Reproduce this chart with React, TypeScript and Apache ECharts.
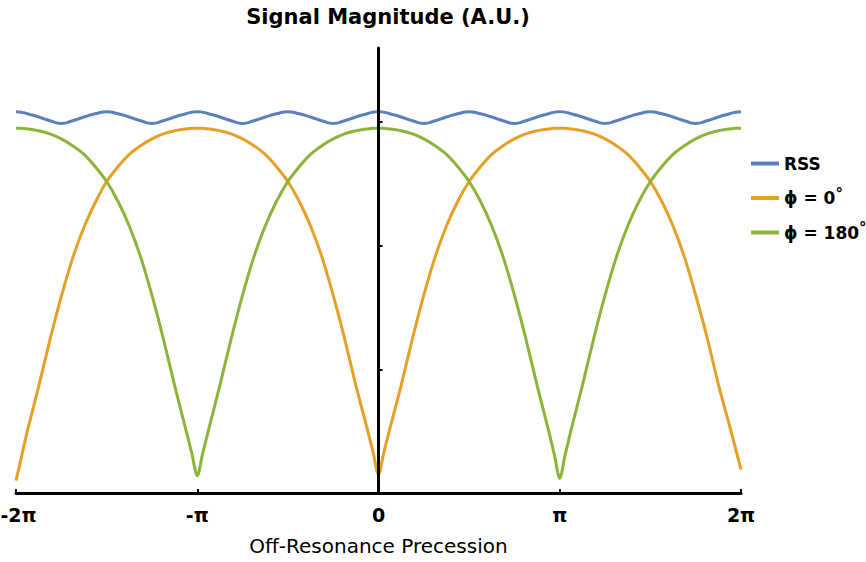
import React, { useEffect, useRef } from 'react';
import * as echarts from 'echarts';

// x positions in units of π
const X_PI = [
  -2, -1.97, -1.9375, -1.875, -1.8125, -1.75, -1.6875, -1.625, -1.5625, -1.5, -1.4375, -1.375, -1.3125, -1.25, -1.1875, -1.125, -1.0625, -1.03,
  -1, -0.97, -0.9375, -0.875, -0.8125, -0.75, -0.6875, -0.625, -0.5625, -0.5, -0.4375, -0.375, -0.3125, -0.25, -0.1875, -0.125, -0.0625, -0.03,
  0, 0.03, 0.0625, 0.125, 0.1875, 0.25, 0.3125, 0.375, 0.4375, 0.5, 0.5625, 0.625, 0.6875, 0.75, 0.8125, 0.875, 0.9375, 0.97,
  1, 1.03, 1.0625, 1.125, 1.1875, 1.25, 1.3125, 1.375, 1.4375, 1.5, 1.5625, 1.625, 1.6875, 1.75, 1.8125, 1.875, 1.9375, 1.97,
  2,
];

const RSS = [
  3.085, 3.081, 3.068, 3.042, 3.012, 2.99, 3.012, 3.042, 3.068, 3.085, 3.068, 3.042, 3.012, 2.99, 3.012, 3.042, 3.068, 3.081,
  3.085, 3.081, 3.068, 3.042, 3.012, 2.99, 3.012, 3.042, 3.068, 3.085, 3.068, 3.042, 3.012, 2.99, 3.012, 3.042, 3.068, 3.081,
  3.085, 3.081, 3.068, 3.042, 3.012, 2.99, 3.012, 3.042, 3.068, 3.085, 3.068, 3.042, 3.012, 2.99, 3.012, 3.042, 3.068, 3.081,
  3.085, 3.081, 3.068, 3.042, 3.012, 2.99, 3.012, 3.042, 3.068, 3.085, 3.068, 3.042, 3.012, 2.99, 3.012, 3.042, 3.068, 3.081,
  3.085,
];

const PHI0 = [
  0.10, 0.29, 0.50, 0.86, 1.24, 1.59, 1.90, 2.15, 2.35, 2.52, 2.64, 2.74, 2.81, 2.865, 2.905, 2.93, 2.945, 2.95,
  2.95, 2.95, 2.945, 2.93, 2.905, 2.865, 2.81, 2.74, 2.64, 2.52, 2.36, 2.16, 1.91, 1.60, 1.25, 0.87, 0.52, 0.33,
  0.15, 0.33, 0.52, 0.87, 1.25, 1.60, 1.91, 2.16, 2.36, 2.52, 2.64, 2.74, 2.81, 2.865, 2.905, 2.93, 2.945, 2.95,
  2.95, 2.95, 2.945, 2.93, 2.905, 2.865, 2.81, 2.74, 2.64, 2.52, 2.36, 2.16, 1.91, 1.60, 1.26, 0.88, 0.54, 0.36,
  0.19,
];

const PHI180 = [
  2.95, 2.95, 2.945, 2.93, 2.905, 2.865, 2.81, 2.74, 2.64, 2.52, 2.36, 2.16, 1.91, 1.60, 1.25, 0.87, 0.51, 0.32,
  0.14, 0.32, 0.51, 0.87, 1.25, 1.60, 1.91, 2.16, 2.36, 2.52, 2.64, 2.74, 2.81, 2.865, 2.905, 2.93, 2.945, 2.95,
  2.95, 2.95, 2.945, 2.93, 2.905, 2.865, 2.81, 2.74, 2.64, 2.52, 2.36, 2.16, 1.91, 1.60, 1.25, 0.87, 0.51, 0.31,
  0.12, 0.31, 0.51, 0.87, 1.25, 1.60, 1.91, 2.16, 2.36, 2.52, 2.64, 2.74, 2.81, 2.865, 2.905, 2.93, 2.945, 2.95,
  2.95,
];

const SERIES_NAMES = ['RSS', 'ϕ = 0°', 'ϕ = 180°'];
const X_TICK_LABELS: Record<string, string> = { '-2': '-2π', '-1': '-π', '0': '0', '1': 'π', '2': '2π' };
const Y_TICKS = [0, 1, 2, 3];

const FONT = '"DejaVu Sans", "Liberation Sans", sans-serif';

export default function App() {
  const ref = useRef<HTMLDivElement>(null);
  useEffect(() => {
    if (!ref.current) return;
    const chart = echarts.init(ref.current, undefined, { renderer: 'svg' });
    const toPairs = (vals: number[]) => X_PI.map((x, i) => [x, vals[i]]);
    const tickFont = { fontFamily: FONT, fontSize: 19, fontWeight: 'bold', color: '#000' };
    chart.setOption({
      animation: false,
      backgroundColor: '#ffffff',
      title: {
        text: 'Signal Magnitude (A.U.)',
        left: 383,
        top: 1,
        textAlign: 'center',
        textStyle: { fontFamily: FONT, fontWeight: 'bold', fontSize: 21, color: '#000' },
      },
      legend: {
        orient: 'vertical',
        left: 746,
        top: 150,
        itemWidth: 28,
        itemHeight: 4,
        itemGap: 14,
        icon: 'rect',
        data: SERIES_NAMES,
        formatter: (name: string) => {
          if (name.indexOf('°') >= 0) return '{b|' + name.replace('°', '') + '}{s|°}';
          return '{b|' + name + '}';
        },
        textStyle: {
          fontFamily: FONT,
          fontSize: 17,
          fontWeight: 'bold',
          color: '#000',
          rich: {
            b: { fontFamily: FONT, fontSize: 17, fontWeight: 'bold', color: '#000' },
            s: { fontFamily: FONT, fontSize: 15, color: '#000', padding: [0, 0, 9, 0] },
          },
        },
      },
      grid: { left: 16, right: 125, top: 48, bottom: 69, containLabel: false, outerBoundsMode: 'none' },
      xAxis: {
        type: 'value',
        min: -2,
        max: 2,
        interval: 1,
        name: 'Off-Resonance Precession',
        nameLocation: 'middle',
        nameGap: 43,
        nameTextStyle: { fontFamily: FONT, fontSize: 20, color: '#000' },
        axisLine: { show: true, onZero: true, lineStyle: { color: '#000', width: 3 } },
        axisTick: { show: true, inside: true, length: 4, lineStyle: { color: '#000', width: 2 } },
        axisLabel: {
          ...tickFont,
          margin: 12,
          hideOverlap: false,
          formatter: (v: number) => {
            const t = X_TICK_LABELS[String(v)] ?? '';
            return v === -2 ? '{l|' + t + '}' : '{n|' + t + '}';
          },
          rich: {
            l: { ...tickFont, padding: [0, 0, 0, 5] },
            n: { ...tickFont },
          },
        },
        splitLine: { show: false },
      },
      yAxis: {
        type: 'value',
        min: 0,
        max: 3.6,
        interval: 1,
        z: 10,
        axisLine: { show: true, onZero: true, lineStyle: { color: '#000', width: 3 } },
        axisTick: { show: true, inside: true, length: 4, customValues: Y_TICKS, lineStyle: { color: '#000', width: 2 } },
        axisLabel: { show: false },
        splitLine: { show: false },
      },
      series: [
        {
          name: SERIES_NAMES[0],
          type: 'line',
          data: toPairs(RSS),
          showSymbol: false,
          symbol: 'none',
          smooth: 0.6,
          lineStyle: { color: '#5b80be', width: 3 },
          itemStyle: { color: '#5b80be' },
        },
        {
          name: SERIES_NAMES[1],
          type: 'line',
          data: toPairs(PHI0),
          showSymbol: false,
          symbol: 'none',
          smooth: 0.3,
          lineStyle: { color: '#e69f27', width: 3 },
          itemStyle: { color: '#e69f27' },
        },
        {
          name: SERIES_NAMES[2],
          type: 'line',
          data: toPairs(PHI180),
          showSymbol: false,
          symbol: 'none',
          smooth: 0.3,
          lineStyle: { color: '#8db33a', width: 3 },
          itemStyle: { color: '#8db33a' },
        },
      ],
    });
    return () => chart.dispose();
  }, []);
  return <div ref={ref} style={{ position: 'fixed', left: 0, top: 0, width: 866, height: 562 }} />;
}
